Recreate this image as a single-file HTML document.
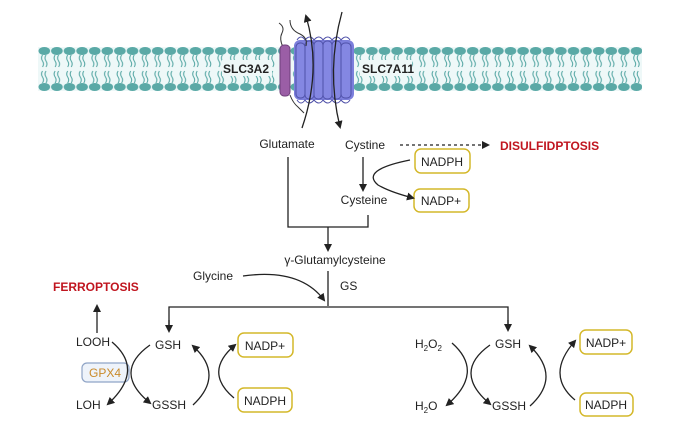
<!DOCTYPE html>
<html><head><style>
html,body{margin:0;padding:0;background:#fff}
svg{display:block}
text{font-family:"Liberation Sans",sans-serif;fill:#222}
</style></head><body>
<svg width="685" height="443" viewBox="0 0 685 443" xmlns="http://www.w3.org/2000/svg">
<defs>
<pattern id="lip" x="38" y="0" width="12.6" height="120" patternUnits="userSpaceOnUse">
<ellipse cx="6.3" cy="51" rx="5.8" ry="4" fill="#5aa9a6"/>
<ellipse cx="6.3" cy="87" rx="5.8" ry="4" fill="#5aa9a6"/>
<path d="M4.5 55 q-2 3 0 6 q2 3 0 6 M8 55 q-2 3 0 6 q2 3 0 6 M4.5 71 q-2 3 0 6 q2 3 0 6 M8 71 q-2 3 0 6 q2 3 0 6" stroke="#5aa9a6" stroke-width="1.1" fill="none"/>
</pattern>
<marker id="ah" markerWidth="8" markerHeight="8" refX="6" refY="4" orient="auto" markerUnits="userSpaceOnUse"><path d="M0,0 L8,4 L0,8 z" fill="#222"/></marker>
</defs>
<rect x="38" y="47" width="604" height="44" fill="#eef8f8"/>
<rect x="38" y="0" width="604" height="120" fill="url(#lip)"/>
<rect x="222" y="60" width="50" height="16" fill="#eef8f8"/>
<rect x="360" y="60" width="52" height="16" fill="#eef8f8"/>
<text x="223" y="73" font-size="12" font-weight="bold">SLC3A2</text>
<text x="362" y="73" font-size="12" font-weight="bold">SLC7A11</text>
<!-- proteins -->
<path d="M283 47 q-4 -8 -1 -14 q3 -6 -3 -10 M290 95 q3 8 8 12 q4 4 6 6" stroke="#333" stroke-width="1" fill="none"/>
<rect x="280" y="45" width="10" height="51" rx="4" fill="#9b5ea6" stroke="#6e3f7a"/>
<rect x="294" y="40" width="60" height="60" rx="6" fill="#7c7fdc"/>
<g stroke="#4e50a8" stroke-width="1" fill="#8487e2">
<rect x="296" y="43" width="9" height="55" rx="4"/><rect x="305" y="41" width="9" height="58" rx="4"/><rect x="314" y="41" width="9" height="58" rx="4"/><rect x="323" y="41" width="9" height="58" rx="4"/><rect x="332" y="41" width="9" height="58" rx="4"/><rect x="341" y="43" width="10" height="55" rx="4"/>
</g>
<path d="M297 100 q4 6 8 0 q4 6 9 0 q5 6 9 0 q5 6 9 0 q5 6 9 0 q5 6 9 0 M297 40 q4 -6 8 0 q5 -6 9 0 q5 -6 9 0 q5 -6 9 0 q5 -6 9 0 q5 -6 9 0" stroke="#4e50a8" fill="none"/>
<path d="M290 20 q0 10 10 14 q8 4 6 12" stroke="#333" fill="none"/>
<path d="M302 128 Q322 70 306 16" stroke="#222" stroke-width="1.3" fill="none" marker-end="url(#ah)"/>
<path d="M342 12 Q326 70 340 127" stroke="#222" stroke-width="1.3" fill="none" marker-end="url(#ah)"/>
<!-- top pathway -->
<g font-size="12">
<text x="287" y="148" text-anchor="middle">Glutamate</text>
<text x="365" y="149" text-anchor="middle">Cystine</text>
<text x="364" y="204" text-anchor="middle">Cysteine</text>
<text x="335" y="264" text-anchor="middle">γ-Glutamylcysteine</text>
<text x="340" y="290">GS</text>
<text x="193" y="280">Glycine</text>
</g>
<text x="500" y="150" font-size="12" font-weight="bold" style="fill:#c0151f">DISULFIDPTOSIS</text>
<line x1="400" y1="145" x2="488" y2="145" stroke="#222" stroke-width="1.2" stroke-dasharray="3,3" marker-end="url(#ah)"/>
<line x1="363" y1="157" x2="363" y2="190" stroke="#222" stroke-width="1.3" marker-end="url(#ah)"/>
<g fill="none" stroke="#d4b82a" stroke-width="1.5">
<rect x="415" y="149" width="55" height="24" rx="6"/>
<rect x="414" y="189" width="55" height="23" rx="6"/>
<rect x="238" y="333" width="55" height="24" rx="6"/>
<rect x="238" y="388" width="54" height="24" rx="6"/>
<rect x="580" y="330" width="52" height="24" rx="6"/>
<rect x="580" y="393" width="53" height="23" rx="6"/>
</g>
<rect x="82" y="363" width="47" height="19" rx="5" fill="#eef3fa" stroke="#8fa4c6" stroke-width="1.2"/>
<g font-size="12">
<text x="442" y="166" text-anchor="middle">NADPH</text>
<text x="441" y="205" text-anchor="middle">NADP+</text>
<text x="265" y="350" text-anchor="middle">NADP+</text>
<text x="265" y="405" text-anchor="middle">NADPH</text>
<text x="606" y="347" text-anchor="middle">NADP+</text>
<text x="606" y="409" text-anchor="middle">NADPH</text>
<text x="105" y="377" text-anchor="middle" style="fill:#c98a2a">GPX4</text>
<text x="76" y="346">LOOH</text>
<text x="76" y="409">LOH</text>
<text x="155" y="349">GSH</text>
<text x="152" y="409">GSSH</text>
<text x="495" y="348">GSH</text>
<text x="492" y="410">GSSH</text>
<text x="415" y="348">H<tspan font-size="8" dy="3">2</tspan><tspan dy="-3">O</tspan><tspan font-size="8" dy="3">2</tspan></text>
<text x="415" y="410">H<tspan font-size="8" dy="3">2</tspan><tspan dy="-3">O</tspan></text>
</g>
<text x="53" y="291" font-size="12" font-weight="bold" style="fill:#c0151f">FERROPTOSIS</text>
<path d="M410 160 Q360 170 378 185 Q390 192 413 198" stroke="#222" stroke-width="1.3" fill="none" marker-end="url(#ah)"/>
<g stroke="#222" stroke-width="1.3" fill="none">
<polyline points="288,157 288,227 368,227 368,215"/>
<line x1="328" y1="227" x2="328" y2="250" marker-end="url(#ah)"/>
<line x1="328" y1="271" x2="328" y2="306"/>
<path d="M243 276 Q300 268 324 300" marker-end="url(#ah)"/>
<polyline points="169,330 169,307 508,307 508,330"/>
<line x1="169" y1="320" x2="169" y2="331" marker-end="url(#ah)"/>
<line x1="508" y1="320" x2="508" y2="330" marker-end="url(#ah)"/>
<line x1="97" y1="333" x2="97" y2="306" marker-end="url(#ah)"/>
<!-- left cycle -->
<path d="M112 342 Q145 370 108 404" marker-end="url(#ah)"/>
<path d="M150 345 Q112 372 150 403" marker-end="url(#ah)"/>
<path d="M193 405 Q225 375 193 346" marker-end="url(#ah)"/>
<path d="M234 398 Q203 372 235 345" marker-end="url(#ah)"/>
<!-- right cycle -->
<path d="M452 343 Q485 372 447 405" marker-end="url(#ah)"/>
<path d="M490 345 Q452 372 490 404" marker-end="url(#ah)"/>
<path d="M530 406 Q562 377 530 346" marker-end="url(#ah)"/>
<path d="M575 400 Q545 375 575 341" marker-end="url(#ah)"/>
</g>
</svg>
</body></html>
